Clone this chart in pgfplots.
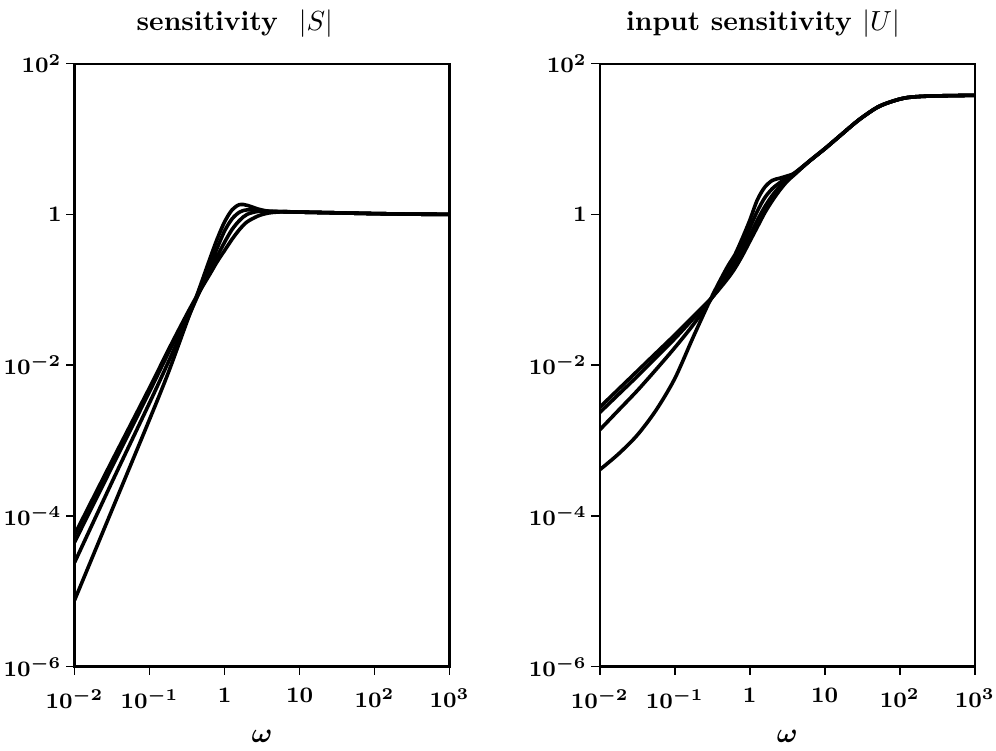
\documentclass[border=0pt]{standalone}
\usepackage{pgfplots}
\pgfplotsset{compat=1.18}
\usepackage{pgfplotstable}

\tikzset{sensline/.style={black, line width=1.3pt, smooth, tension=0.5}}

% log10(omega) and log10 of the four curves
\pgfplotstableread{
lw    a      b      c      d
-2    -4.25  -4.35  -4.62  -5.12
-1.5  -3.27  -3.35  -3.55  -3.92
-1    -2.30  -2.35  -2.50  -2.72
-0.75 -1.80  -1.84  -1.96  -2.10
-0.5  -1.32  -1.35  -1.40  -1.42
-0.35 -1.05  -1.06  -1.06  -1.02
-0.2  -0.80  -0.76  -0.70  -0.60
-0.1  -0.63  -0.56  -0.45  -0.33
0     -0.48  -0.37  -0.22  -0.10
0.1   -0.33  -0.20  -0.06  0.06
0.2   -0.20  -0.08  0.03   0.13
0.3   -0.10  0.00   0.06   0.12
0.45  -0.02  0.04   0.05   0.07
0.6   0.02   0.04   0.04   0.04
0.8   0.035  0.035  0.035  0.035
1     0.03   0.03   0.03   0.03
1.5   0.02   0.02   0.02   0.02
2     0.01   0.01   0.01   0.01
2.5   0.003  0.003  0.003  0.003
3     0.0    0.0    0.0    0.0
}\sens

\pgfplotstableread{
lw    a      b      c      d
-2    -2.56  -2.63  -2.86  -3.39
-1.75 -2.32  -2.39  -2.60  -3.18
-1.5  -2.08  -2.15  -2.34  -2.93
-1.25 -1.84  -1.90  -2.06  -2.60
-1    -1.60  -1.65  -1.77  -2.18
-0.75 -1.35  -1.38  -1.46  -1.62
-0.5  -1.10  -1.10  -1.10  -1.08
-0.3  -0.86  -0.82  -0.78  -0.70
-0.2  -0.72  -0.66  -0.60  -0.54
-0.1  -0.55  -0.48  -0.40  -0.32
0     -0.36  -0.28  -0.18  -0.08
0.1   -0.17  -0.08  0.04   0.19
0.2   0.02   0.10   0.22   0.36
0.3   0.18   0.25   0.34   0.45
0.4   0.32   0.37   0.42   0.48
0.5   0.44   0.46   0.49   0.51
0.6   0.53   0.54   0.55   0.55
0.8   0.71   0.71   0.71   0.71
1.0   0.87   0.87   0.87   0.87
1.2   1.04   1.04   1.04   1.04
1.45  1.25   1.25   1.25   1.25
1.7   1.42   1.42   1.42   1.42
1.9   1.50   1.50   1.50   1.50
2.1   1.55   1.55   1.55   1.55
2.4   1.57   1.57   1.57   1.57
3.0   1.58   1.58   1.58   1.58
}\usens

\begin{document}
\begin{tikzpicture}
\path[use as bounding box] (0,0) rectangle (360.5pt,-271.5pt);
\begin{axis}[
at={(27pt,-241.2pt)}, anchor=south west,
scale only axis, width=135.72pt, height=218.16pt,
xmode=log, ymode=log,
xmin=0.01, xmax=1000, ymin=1e-6, ymax=100,
xtick={0.01,0.1,1,10,100,1000},
xticklabels={$10^{-2}$,$10^{-1}$,$1$,$10$,$10^{2}$,$10^{3}$},
ytick={1e-6,1e-4,1e-2,1,100},
yticklabels={$10^{-6}$,$10^{-4}$,$10^{-2}$,$1$,$10^{2}$},
xminorticks=false, yminorticks=false,
tick align=outside, tick pos=left,
major tick length=3pt,
tick style={black, line width=0.6pt},
axis line style={line width=0.8pt},
tick label style={font=\footnotesize\boldmath},
yticklabel style={inner xsep=1.5pt},
xticklabel style={yshift=-1.5pt},
]
\addplot [sensline] table [x expr=10^\thisrow{lw}, y expr=10^\thisrow{a}] {\sens};
\addplot [sensline] table [x expr=10^\thisrow{lw}, y expr=10^\thisrow{b}] {\sens};
\addplot [sensline] table [x expr=10^\thisrow{lw}, y expr=10^\thisrow{c}] {\sens};
\addplot [sensline] table [x expr=10^\thisrow{lw}, y expr=10^\thisrow{d}] {\sens};
\end{axis}
\begin{axis}[
at={(217.08pt,-241.2pt)}, anchor=south west,
scale only axis, width=135.72pt, height=218.16pt,
xmode=log, ymode=log,
xmin=0.01, xmax=1000, ymin=1e-6, ymax=100,
xtick={0.01,0.1,1,10,100,1000},
xticklabels={$10^{-2}$,$10^{-1}$,$1$,$10$,$10^{2}$,$10^{3}$},
ytick={1e-6,1e-4,1e-2,1,100},
yticklabels={$10^{-6}$,$10^{-4}$,$10^{-2}$,$1$,$10^{2}$},
xminorticks=false, yminorticks=false,
tick align=outside, tick pos=left,
major tick length=3pt,
tick style={black, line width=0.6pt},
axis line style={line width=0.8pt},
tick label style={font=\footnotesize\boldmath},
yticklabel style={inner xsep=1.5pt},
xticklabel style={yshift=-1.5pt},
]
\addplot [sensline] table [x expr=10^\thisrow{lw}, y expr=10^\thisrow{a}] {\usens};
\addplot [sensline] table [x expr=10^\thisrow{lw}, y expr=10^\thisrow{b}] {\usens};
\addplot [sensline] table [x expr=10^\thisrow{lw}, y expr=10^\thisrow{c}] {\usens};
\addplot [sensline] table [x expr=10^\thisrow{lw}, y expr=10^\thisrow{d}] {\usens};
\end{axis}
\node[font=\bfseries] at (84.96pt,-8.64pt) {sensitivity\ \ $|S|$};
\node[font=\bfseries] at (276.12pt,-8.64pt) {input sensitivity\ $|U|$};
\node[font=\boldmath] at (94.86pt,-266.4pt) {$\omega$};
\node[font=\boldmath] at (284.94pt,-266.4pt) {$\omega$};
\end{tikzpicture}
\end{document}
